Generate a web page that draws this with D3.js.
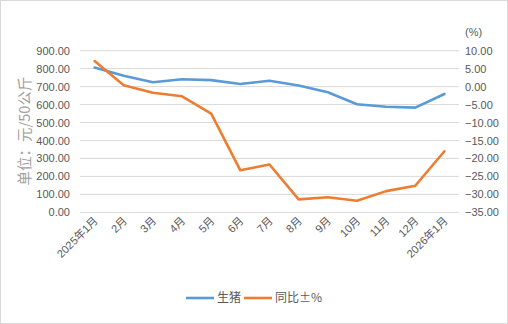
<!DOCTYPE html>
<html>
<head>
<meta charset="utf-8">
<script src="https://cdn.jsdelivr.net/npm/d3@7/dist/d3.min.js"></script>
<style>
  html, body { margin: 0; padding: 0; background: #fff; }
  svg { display: block; font-family: "Liberation Sans", "Noto Sans CJK SC", sans-serif; }
</style>
</head>
<body>
<svg id="chart" width="508" height="324"></svg>
<script>
// Monthly hog price (元/50公斤) and year-on-year change (%)
const months = ["2025年1月", "2月", "3月", "4月", "5月", "6月", "7月", "8月", "9月", "10月", "11月", "12月", "2026年1月"];
const hogPrice = [806, 761, 724, 741, 736, 715, 733, 706, 669, 602, 588, 583, 659];
const yoyChange = [7.1, 0.4, -1.7, -2.7, -7.5, -23.3, -21.7, -31.4, -30.8, -31.8, -29.1, -27.6, -18.0];
const leftTicks = [0, 100, 200, 300, 400, 500, 600, 700, 800, 900];
const rightTicks = [-35, -30, -25, -20, -15, -10, -5, 0, 5, 10];
const seriesNames = ["生猪", "同比±%"];
const colors = ["#5B9BD5", "#ED7D31"];

const svg = d3.select("#chart");
const W = 508, H = 324;
const plot = { left: 80, right: 459, top: 50.7, bottom: 212.3 };

svg.append("rect").attr("x", 0.5).attr("y", 0.5).attr("width", W - 1).attr("height", H - 1)
  .attr("fill", "#fff").attr("stroke", "#D9D9D9");

const x = d3.scaleBand().domain(months).range([plot.left, plot.right]);
const yL = d3.scaleLinear().domain([0, 900]).range([plot.bottom, plot.top]);
const yR = d3.scaleLinear().domain([-35, 10]).range([plot.bottom, plot.top]);

// Horizontal gridlines
svg.append("g").selectAll("line").data(leftTicks).join("line")
  .attr("x1", plot.left).attr("x2", plot.right)
  .attr("y1", d => yL(d)).attr("y2", d => yL(d))
  .attr("stroke", "#D9D9D9").attr("stroke-width", 1);

// Left axis labels
const leftAxis = svg.append("g").attr("transform", `translate(${plot.left - 10},0)`)
  .call(d3.axisLeft(yL).tickValues(leftTicks).tickFormat(d3.format(".2f")).tickSize(0).tickPadding(0));
leftAxis.select(".domain").remove();
leftAxis.selectAll("text").attr("fill", "#595959").style("font-size", "11px");

// Right axis labels
const rightAxis = svg.append("g").attr("transform", `translate(${plot.right + 6},0)`)
  .call(d3.axisRight(yR).tickValues(rightTicks).tickFormat(d3.format(".2f")).tickSize(0).tickPadding(0));
rightAxis.select(".domain").remove();
rightAxis.selectAll("text").attr("fill", "#595959").style("font-size", "11px");

svg.append("text").attr("x", 465).attr("y", 36).text("(%)")
  .attr("fill", "#595959").style("font-size", "11px");

// Left axis title
svg.append("text").attr("transform", `translate(30,131) rotate(-90)`)
  .attr("text-anchor", "middle").text("单位：元/50公斤")
  .attr("fill", "#A0A0A0").style("font-size", "14.5px")
  .style("font-family", "'Noto Sans CJK SC', sans-serif");

// Category labels, rotated
const xAxis = svg.append("g").attr("transform", `translate(0,${plot.bottom})`)
  .call(d3.axisBottom(x).tickSize(0).tickPadding(0));
xAxis.select(".domain").remove();
xAxis.selectAll("text")
  .attr("fill", "#595959").style("font-size", "11px")
  .style("font-family", "'Liberation Sans', 'Noto Sans CJK SC', sans-serif")
  .attr("text-anchor", "end")
  .attr("dy", null).attr("y", 0)
  .attr("transform", "translate(2,7) rotate(-45)")
  .attr("dominant-baseline", "middle");

const cx = d => x(d) + x.bandwidth() / 2;

const lineL = d3.line().x((d, i) => cx(months[i])).y(d => yL(d));
const lineR = d3.line().x((d, i) => cx(months[i])).y(d => yR(d));

svg.append("path").datum(hogPrice).attr("d", lineL)
  .attr("fill", "none").attr("stroke", colors[0]).attr("stroke-width", 2.6)
  .attr("stroke-linejoin", "round").attr("stroke-linecap", "round");
svg.append("path").datum(yoyChange).attr("d", lineR)
  .attr("fill", "none").attr("stroke", colors[1]).attr("stroke-width", 2.6)
  .attr("stroke-linejoin", "round").attr("stroke-linecap", "round");

// Legend
const legend = svg.append("g");
const legendX = [186, 244];
seriesNames.forEach((name, i) => {
  legend.append("line").attr("x1", legendX[i]).attr("x2", legendX[i] + 28)
    .attr("y1", 298).attr("y2", 298).attr("stroke", colors[i]).attr("stroke-width", 2.6);
  legend.append("text").attr("x", legendX[i] + 31).attr("y", 302).text(name)
    .attr("fill", "#595959").style("font-size", "12px")
    .style("font-family", "'Noto Sans CJK SC', sans-serif");
});
</script>
</body>
</html>
